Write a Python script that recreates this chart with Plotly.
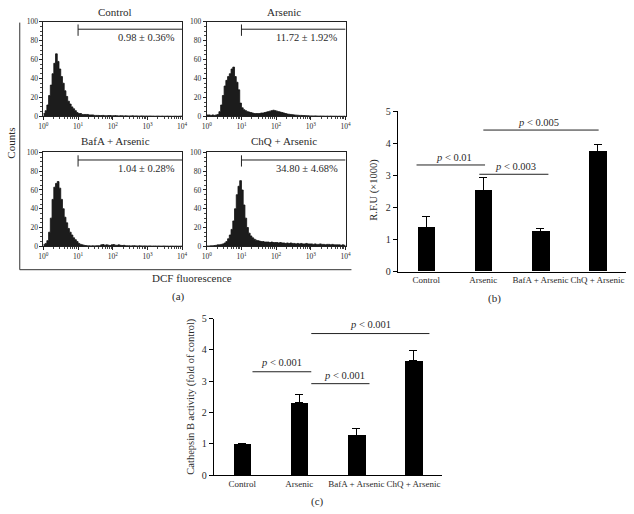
import plotly.graph_objects as go

# ---------------- data ----------------
BIN_STEP = 0.05  # decades per histogram channel (bins from 10^0 to 10^4)

control_counts = [3, 6, 12, 22, 33, 45, 56, 66, 58, 50,
                  42, 35, 27, 21, 16, 13, 10, 8, 6, 4,
                  3, 3, 2, 2, 2, 2, 1.5, 1.5, 1.5, 1,
                  1, 1, 0.8, 0.8, 1, 0.7, 0.6, 0.8, 0.9, 0.6,
                  0.7, 0.8, 0.6, 0.5, 0.7, 0.6, 0.5, 0.6, 0.5, 0.4,
                  0.5, 0.6, 0.4, 0.5, 0.4, 0.3, 0.5, 0.4, 0.3, 0.4,
                  0.3, 0.4, 0.3, 0.3, 0.2, 0.3, 0.3, 0.2, 0.3, 0.2,
                  0.2, 0.3, 0.2, 0.2, 0.1, 0.2, 0.2, 0.1, 0.2, 0.3]
arsenic_counts = [1.5, 1.5, 1, 1.5, 1, 1.5,
                  2, 5, 12, 22, 32, 38, 42, 45, 50, 52,
                  42, 36, 28, 14,
                  9, 7, 6, 5, 4.5, 4, 3.5, 3, 3, 3,
                  3, 3.5, 3.5, 4, 4.5, 5, 5.5, 6, 6.5, 6,
                  5.5, 5, 4.5, 4, 3.5, 3, 2.5, 2.2, 2, 1.8,
                  1.5, 1.3, 1.2, 1, 1, 0.8, 0.8, 0.7, 0.6, 0.5,
                  0.5, 0.4, 0.5, 0.4, 0.3, 0.4, 0.3, 0.3, 0.2, 0.3,
                  0.2, 0.3, 0.2, 0.2, 0.2, 0.1, 0.2, 0.1, 0.1, 0.2]
bafa_counts = [2, 3, 6, 15, 30, 50, 63, 67, 69, 62,
               50, 40, 31, 25, 19, 15, 12, 9, 7, 5,
               3, 2, 1.5, 1, 0.8,
               0.5, 0.5, 0.4, 0.5, 0.4, 0.5, 0.6, 0.5,
               1.5, 1.8, 1, 1.5, 1.2, 0.8, 1.5, 1.8, 1.2, 1, 1.5, 1, 0.8, 1, 0.6, 0.5,
               0.5, 0.4, 0.5, 0.6, 0.4, 0.3, 0.5, 0.4, 0.3, 0.4, 0.3, 0.3, 0.4, 0.2, 0.3, 0.3,
               0.2, 0.3, 0.2, 0.2, 0.3, 0.2, 0.2, 0.1, 0.2, 0.2, 0.1, 0.2, 0.1, 0.1, 0.2]
chq_counts = [0.3, 0.3, 0.5, 0.5, 0.8,
              1, 1.5, 1.5, 2, 2.5, 3.5, 5, 8, 12, 18, 27, 40, 55, 64, 70,
              60, 44, 30, 20, 14, 11, 9, 7.5, 6.5, 6, 5.5, 5, 5, 4.5, 4.5, 4.5, 4, 4.5, 4, 4,
              4, 3.5, 4, 3.5, 3.5, 3, 3.5, 3, 3.5, 3,
              3, 2.5, 3, 2.5, 3, 2.5, 2.5, 3, 2.5, 2.5,
              2.5, 2, 2.5, 2, 2, 2.5, 2, 2, 1.5, 2,
              2, 1.5, 2, 1.5, 1.5, 1.5, 1.5, 1, 1.5, 1]

hist_titles = ["Control", "Arsenic", "BafA + Arsenic", "ChQ + Arsenic"]
hist_gate_labels = ["0.98 ± 0.36%", "11.72 ± 1.92%", "1.04 ± 0.28%", "34.80 ± 4.68%"]
hist_counts = [control_counts, arsenic_counts, bafa_counts, chq_counts]
gate_start = 10  # marker gate starts at 10^1
gate_level = 92

categories = ["Control", "Arsenic", "BafA + Arsenic", "ChQ + Arsenic"]
rfu_values = [1.37, 2.53, 1.26, 3.75]
rfu_errors = [0.35, 0.41, 0.09, 0.23]
rfu_sig = [(-0.17, 1.03, 3.33, "p < 0.01", 0.48, 3.55),
           (0.93, 2.14, 3.04, "p < 0.003", 1.57, 3.29),
           (1.0, 3.02, 4.42, "p < 0.005", 1.97, 4.66)]

cathepsin_values = [1.0, 2.31, 1.28, 3.66]
cathepsin_errors = [0.0, 0.25, 0.21, 0.32]
cath_sig = [(0.18, 1.21, 3.30, "p < 0.001", 0.69, 3.6),
            (1.21, 2.23, 2.92, "p < 0.001", 1.80, 3.17),
            (1.21, 3.28, 4.52, "p < 0.001", 2.25, 4.82)]

x_decade_ticks = [1, 10, 100, 1000, 10000]
x_decade_text = ["10<sup>0</sup>", "10<sup>1</sup>", "10<sup>2</sup>", "10<sup>3</sup>", "10<sup>4</sup>"]
y_count_ticks = [0, 20, 40, 60, 80, 100]

# ---------------- layout helpers ----------------
W, H = 634, 514
SERIF = "Liberation Serif"
TXT = "#2a2a2a"


def px_x(a, b):
    return [a / W, b / W]


def px_y(top, bottom):
    return [1 - bottom / H, 1 - top / H]


fig = go.Figure()

hist_domains = [
    (px_x(39, 180), px_y(16, 113)),
    (px_x(205, 346), px_y(16, 113)),
    (px_x(39, 180), px_y(150, 246)),
    (px_x(205, 346), px_y(150, 246)),
]

minor_x = [m * 10 ** d for d in range(4) for m in range(2, 10)]

annotations = []
shapes = []

for k, (counts, title, gate_lbl) in enumerate(zip(hist_counts, hist_titles, hist_gate_labels)):
    n = k + 1
    xs = [10 ** (i * BIN_STEP) for i in range(len(counts) + 1)]
    ys = list(counts) + [counts[-1]]
    xa = "x" if n == 1 else f"x{n}"
    ya = "y" if n == 1 else f"y{n}"
    fig.add_trace(go.Scatter(
        x=xs, y=ys, mode="lines", line=dict(shape="hv", color="#111111", width=0.8),
        fill="tozeroy", fillcolor="#1c1c1c", xaxis=xa, yaxis=ya, showlegend=False,
        hoverinfo="skip"))
    dx, dy = hist_domains[k]
    xkey = "xaxis" if n == 1 else f"xaxis{n}"
    ykey = "yaxis" if n == 1 else f"yaxis{n}"
    fig.update_layout(**{
        xkey: dict(domain=dx, anchor=ya, type="log", range=[0, 4],
                   tickvals=x_decade_ticks, ticktext=x_decade_text, tickangle=0,
                   ticks="outside", ticklen=3, tickwidth=0.8, tickcolor="#222",
                   minor=dict(ticks="outside", ticklen=2, tickvals=minor_x, tickcolor="#444", tickwidth=0.6),
                   showline=True, linecolor="#222", linewidth=0.8, mirror=True,
                   showgrid=False, zeroline=False,
                   tickfont=dict(family=SERIF, size=7.5, color=TXT)),
        ykey: dict(domain=dy, anchor=xa, range=[0, 100],
                   tickvals=y_count_ticks, ticks="outside", ticklen=3, tickwidth=0.8, tickcolor="#222",
                   minor=dict(ticks="outside", ticklen=2, dtick=5, tickcolor="#444", tickwidth=0.6),
                   showline=True, linecolor="#222", linewidth=0.8, mirror=True,
                   showgrid=False, zeroline=False,
                   tickfont=dict(family=SERIF, size=7.5, color=TXT)),
    })
    # gate marker
    shapes.append(dict(type="line", xref=xa, yref=ya, x0=gate_start, x1=10 ** 4,
                       y0=gate_level, y1=gate_level, line=dict(color="#222", width=1)))
    shapes.append(dict(type="line", xref=xa, yref=ya, x0=gate_start, x1=gate_start,
                       y0=gate_level - 7, y1=gate_level + 5, line=dict(color="#222", width=1)))
    annotations.append(dict(x=3.85, y=83, xref=xa, yref=ya, text=gate_lbl, showarrow=False,
                            xanchor="right", yanchor="middle",
                            font=dict(family=SERIF, size=10.5, color=TXT)))

# histogram titles and panel (a) labels
for (txt, x, y) in [("Control", 112, 6), ("Arsenic", 283, 6),
                    ("BafA + Arsenic", 112, 138), ("ChQ + Arsenic", 283, 138),
                    ("DCF fluorescence", 190, 278), ("(a)", 176, 297),
                    ("(b)", 497, 300), ("(c)", 317, 507)]:
    annotations.append(dict(x=x / W, y=1 - y / H, xref="paper", yref="paper", text=txt,
                            showarrow=False, xanchor="center", yanchor="middle",
                            font=dict(family=SERIF, size=11, color=TXT)))
annotations.append(dict(x=6 / W, y=1 - 140 / H, xref="paper", yref="paper", text="Counts",
                        textangle=-90, showarrow=False, xanchor="center", yanchor="middle",
                        font=dict(family=SERIF, size=11, color=TXT)))
# outer frame of panel (a)
shapes.append(dict(type="line", xref="paper", yref="paper", x0=15 / W, x1=15 / W,
                   y0=1 - 270 / H, y1=1 - 17 / H, line=dict(color="#333", width=1)))
shapes.append(dict(type="line", xref="paper", yref="paper", x0=15 / W, x1=352 / W,
                   y0=1 - 270 / H, y1=1 - 270 / H, line=dict(color="#333", width=1)))

# ---------------- bar panels ----------------
bar_panels = [
    (5, rfu_values, rfu_errors, rfu_sig, px_x(399, 631), px_y(108, 272), "R.F.U (×1000)", 375, 188),
    (6, cathepsin_values, cathepsin_errors, cath_sig, px_x(212, 444), px_y(320, 480.3),
     "Cathepsin B activity (fold of control)", 189, 400),
]
for (n, vals, errs, sigs, dx, dy, ytitle, tx, ty) in bar_panels:
    xa, ya = f"x{n}", f"y{n}"
    fig.add_trace(go.Bar(
        x=list(range(len(categories))), y=vals, width=0.31, marker=dict(color="black", line=dict(width=0)),
        error_y=dict(type="data", symmetric=False, array=errs, arrayminus=[0] * len(errs),
                     color="black", thickness=1, width=4),
        xaxis=xa, yaxis=ya, showlegend=False, hoverinfo="skip"))
    fig.update_layout(**{
        f"xaxis{n}": dict(domain=dx, anchor=ya, range=[-0.5, 3.5],
                          tickvals=list(range(len(categories))), ticktext=categories, tickangle=0,
                          ticks="", showline=True, linecolor="black", linewidth=1,
                          showgrid=False, zeroline=False,
                          tickfont=dict(family=SERIF, size=9, color=TXT)),
        f"yaxis{n}": dict(domain=dy, anchor=xa, range=[0, 5], tickvals=[0, 1, 2, 3, 4, 5],
                          ticks="outside", ticklen=4, tickcolor="black", tickwidth=1,
                          showline=True, linecolor="black", linewidth=1,
                          showgrid=False, zeroline=False,
                          tickfont=dict(family=SERIF, size=10, color=TXT)),
    })
    for (x0, x1, yv, lbl, lx, ly) in sigs:
        shapes.append(dict(type="line", xref=xa, yref=ya, x0=x0, x1=x1, y0=yv, y1=yv,
                           line=dict(color="#222", width=1)))
        txt = "<i>p</i>" + lbl[1:]
        annotations.append(dict(x=lx, y=ly, xref=xa, yref=ya, text=txt, showarrow=False,
                                xanchor="center", yanchor="middle",
                                font=dict(family=SERIF, size=10.5, color=TXT)))
    annotations.append(dict(x=tx / W, y=1 - ty / H, xref="paper", yref="paper", text=ytitle,
                            textangle=-90, showarrow=False, xanchor="center", yanchor="middle",
                            font=dict(family=SERIF, size=10.5, color=TXT)))

fig.update_layout(width=W, height=H, margin=dict(l=0, r=0, t=0, b=0),
                  paper_bgcolor="white", plot_bgcolor="white",
                  annotations=annotations, shapes=shapes, bargap=0)

fig.write_html(
    "out.html",
    config={"displayModeBar": False},
    post_script=("document.documentElement.style.margin='0';"
                 "document.body.style.margin='0';document.body.style.overflow='hidden';"
                 "var d=document.getElementById('{plot_id}');"
                 "d.style.position='absolute';d.style.left='0px';d.style.top='0px';"),
)
